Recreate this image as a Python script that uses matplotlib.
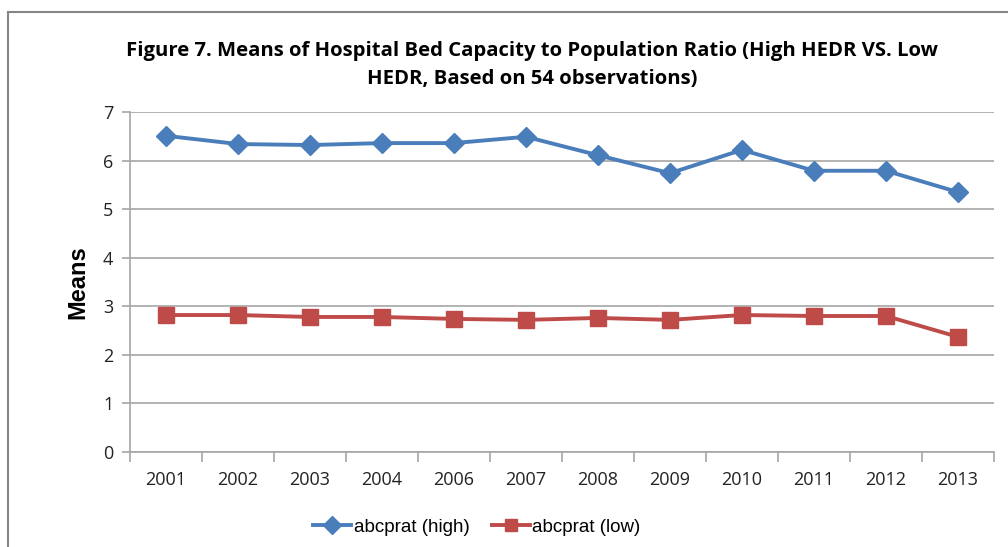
import matplotlib
matplotlib.use("Agg")
import matplotlib.pyplot as plt
from matplotlib.patches import Rectangle
from matplotlib.ticker import FixedLocator, NullFormatter

years = ["2001", "2002", "2003", "2004", "2006", "2007", "2008", "2009", "2010", "2011", "2012", "2013"]
high = [6.51, 6.34, 6.32, 6.36, 6.36, 6.49, 6.11, 5.74, 6.22, 5.79, 5.79, 5.35]
low = [2.82, 2.82, 2.78, 2.78, 2.74, 2.72, 2.76, 2.72, 2.82, 2.80, 2.80, 2.37]
title = "Figure 7. Means of Hospital Bed Capacity to Population Ratio (High HEDR VS. Low\nHEDR, Based on 54 observations)"

W, H = 1008, 547
fig = plt.figure(figsize=(W/100, H/100), dpi=100)
fig.patch.set_facecolor("white")

# outer chart border
fig.patches.append(Rectangle((8/W, -0.1), 1.2, (H-12)/H + 0.1, transform=fig.transFigure,
                             fill=False, edgecolor="#868686", linewidth=1.5))

ax = fig.add_axes([130/W, 1-452/H, (994-130)/W, (452-112)/H])
x = list(range(len(years)))
ax.plot(x, high, color="#4a7ebb", linewidth=2.8, marker="D", markersize=10.5,
        markerfacecolor="#4a7ebb", markeredgecolor="#4a7ebb", label="abcprat (high)")
ax.plot(x, low, color="#be4b48", linewidth=2.8, marker="s", markersize=12,
        markerfacecolor="#be4b48", markeredgecolor="#be4b48", label="abcprat (low)")

ax.set_xlim(-0.5, len(years) - 0.5)
ax.set_ylim(0, 7)
ax.set_yticks(range(0, 8))
ax.grid(axis="y", color="#a6a6a6", linewidth=1.2)
ax.set_axisbelow(True)
for s in ["top", "right"]:
    ax.spines[s].set_visible(False)
for s in ["left", "bottom"]:
    ax.spines[s].set_color("#a6a6a6")
    ax.spines[s].set_linewidth(1.2)

ax.set_xticks(x)
ax.set_xticklabels(years)
ax.tick_params(axis="x", which="major", length=0, pad=14, labelsize=13)
ax.xaxis.set_minor_locator(FixedLocator([i - 0.5 for i in range(len(years) + 1)]))
ax.xaxis.set_minor_formatter(NullFormatter())
ax.tick_params(axis="x", which="minor", length=7, color="#a6a6a6", width=1.2)
ax.tick_params(axis="y", length=6, color="#a6a6a6", width=1.2, pad=6, labelsize=13)
for lbl in ax.get_xticklabels() + ax.get_yticklabels():
    lbl.set_fontfamily(["Open Sans", "DejaVu Sans"])
    lbl.set_color("#222222")

ax.set_ylabel("Means", fontsize=17, fontweight="bold", family=["Liberation Sans", "DejaVu Sans"], labelpad=10)

fig.text(532/W, 1-65/H, title, ha="center", va="center", fontsize=14.6, fontweight="bold",
         family=["Open Sans", "DejaVu Sans"], linespacing=1.5)

leg = fig.legend(loc="center", bbox_to_anchor=(477/W, 1-527/H), ncol=2, frameon=False,
                 prop={"family": ["Liberation Sans", "DejaVu Sans"], "size": 13.5},
                 handlelength=2.0, columnspacing=1.2, handletextpad=0.15)
for h in leg.legend_handles:
    h.set_markersize(9)
    h.set_linewidth(2.8)

fig.savefig("out.png", dpi=100, facecolor="white")
